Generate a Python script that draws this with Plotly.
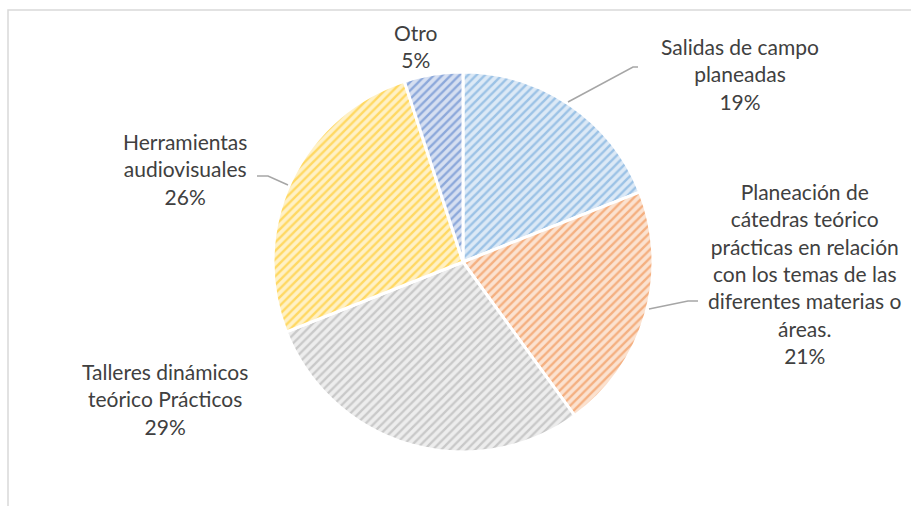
import plotly.graph_objects as go

W, H = 911, 506

labels = [
    "Salidas de campo<br>planeadas",
    "Planeación de<br>cátedras teórico<br>prácticas en relación<br>con los temas de las<br>diferentes materias o<br>áreas.",
    "Talleres dinámicos<br>teórico Prácticos",
    "Herramientas<br>audiovisuales",
    "Otro",
]
values = [19, 21, 29, 26, 5]
fg_colors = ["#5B9BD5", "#ED7D31", "#A5A5A5", "#FFC000", "#4472C4"]
bg_colors = ["#DCE9F6", "#FBE2D0", "#EDEDED", "#FFF1C6", "#D6DFF1"]

# label centres (px) and leader paths (px)
label_pos = [(740, 74), (805, 273), (165, 399), (185, 169), (416, 46)]
leaders = [
    [(568, 102), (633, 67), (638, 67)],
    [(649, 309), (688, 301), (698, 301)],
    None,
    [(288, 185), (268, 176), (257, 176)],
    None,
]

TEXT = "#404040"
FONT = "Lato, 'Open Sans', sans-serif"


def px(x, y):
    return x / W, 1 - y / H


cx, cy, r = 463, 262, 190
fig = go.Figure()
fig.add_pie(
    labels=labels, values=values, sort=False, direction="clockwise", rotation=0,
    textinfo="none", hoverinfo="label+percent", showlegend=False,
    marker=dict(
        colors=bg_colors,
        line=dict(color="white", width=3),
        pattern=dict(shape="/", fgcolor=fg_colors, bgcolor=bg_colors,
                     size=6, solidity=0.4, fillmode="overlay"),
    ),
    domain=dict(x=[(cx - r) / W, (cx + r) / W], y=[1 - (cy + r) / H, 1 - (cy - r) / H]),
)

total = sum(values)
for lab, v, (x, y) in zip(labels, values, label_pos):
    ax, ay = px(x, y)
    fig.add_annotation(
        x=ax, y=ay, xref="paper", yref="paper", showarrow=False,
        xanchor="center", yanchor="middle",
        text=f"{lab}<br>{round(100 * v / total)}%", align="center",
        font=dict(family=FONT, size=21, color=TEXT),
    )

for path in leaders:
    if not path:
        continue
    pts = [px(x, y) for x, y in path]
    d = "M " + " L ".join(f"{a},{b}" for a, b in pts)
    fig.add_shape(type="path", path=d, xref="paper", yref="paper",
                  line=dict(color="#A6A6A6", width=1.5))

# chart-area border
x0, y0 = px(8, 10)
fig.add_shape(type="rect", xref="paper", yref="paper", x0=x0, y0=-0.2, x1=1.2, y1=y0,
              line=dict(color="#D9D9D9", width=1.5), fillcolor="rgba(0,0,0,0)")

fig.update_layout(
    width=W, height=H, margin=dict(l=0, r=0, t=0, b=0),
    paper_bgcolor="white", plot_bgcolor="white",
    font=dict(family=FONT, color=TEXT),
)
fig.write_html("out.html", config={"displayModeBar": False},
               post_script="document.body.style.margin='0';")
